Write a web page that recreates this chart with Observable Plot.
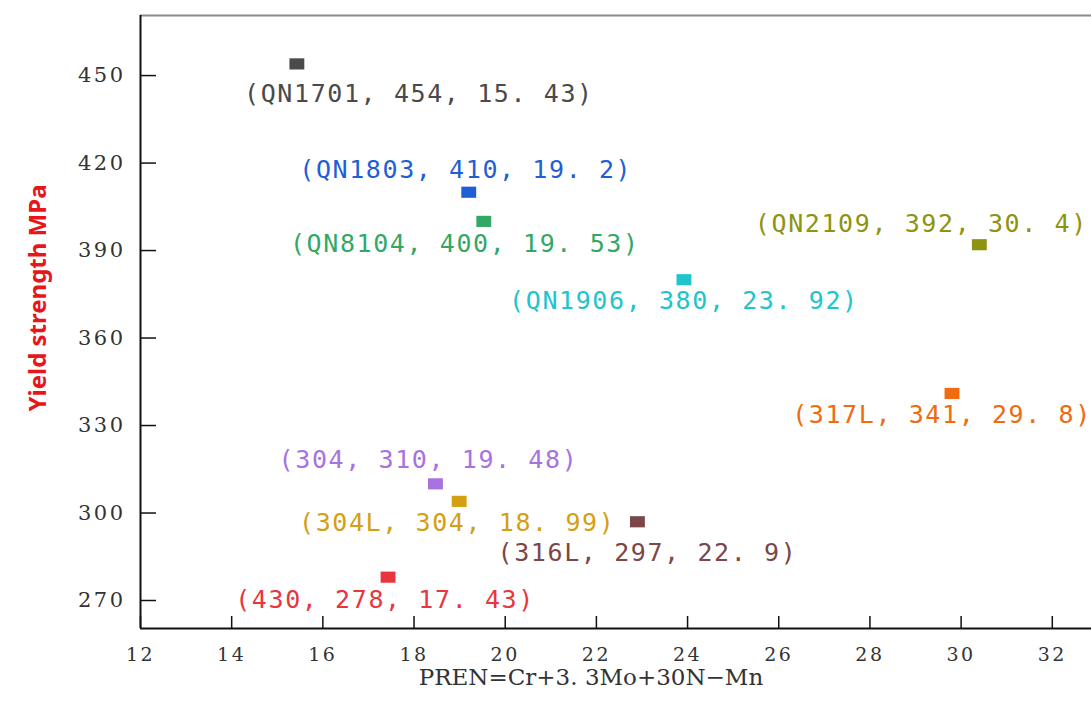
<!DOCTYPE html>
<html>
<head>
<meta charset="utf-8">
<script src="https://cdn.jsdelivr.net/npm/d3@7"></script>
<script src="https://cdn.jsdelivr.net/npm/@observablehq/plot@0.6"></script>
<style>
  html, body { margin: 0; padding: 0; background: #fff; }
  #chart svg { display: block; }
</style>
</head>
<body>
<div id="chart"></div>
<script>
// Data
const grades = ["QN1701", "QN1803", "QN8104", "QN2109", "QN1906", "317L", "304", "304L", "316L", "430"];
const yieldStrength = [454, 410, 400, 392, 380, 341, 310, 304, 297, 278];
// marker positions (x)
const pren = [15.43, 19.2, 19.53, 30.4, 23.92, 29.8, 18.47, 18.99, 22.9, 17.43];
// values as printed in the labels
const prenText = ["15. 43", "19. 2", "19. 53", "30. 4", "23. 92", "29. 8", "19. 48", "18. 99", "22. 9", "17. 43"];
const colors = ["#4a4a4a", "#1f5fd6", "#33a865", "#8c9412", "#22c4cc", "#f06a10", "#a872e0", "#d4a012", "#7a4848", "#e8363e"];
// label offsets (px) relative to the marker
const labelDx = [122, -3, -19, -58, 0, -10, -7, -2, 10, -3];
const labelDy = [30, -22, 23, -21, 21, 22, -24, 22, 31, 23];

const xTicks = [12, 14, 16, 18, 20, 22, 24, 26, 28, 30, 32];
const yTicks = [270, 300, 330, 360, 390, 420, 450];
const xDomain = [12, 32.86];
const yDomain = [260.4, 470.6];
const xTitle = "PREN=Cr+3. 3Mo+30N\u2212Mn";
const yTitle = "Yield strength MPa";

const data = grades.map((g, i) => ({
  grade: g, y: yieldStrength[i], x: pren[i], color: colors[i],
  label: `(${g}, ${yieldStrength[i]}, ${prenText[i]})`,
  dx: labelDx[i], dy: labelDy[i]
}));

const rectSymbol = {
  draw(ctx, size) {
    const s = Math.sqrt(size);
    ctx.rect(-0.6 * s, -0.45 * s, 1.2 * s, 0.9 * s);
  }
};

const tickFont = "DejaVu Serif, serif";

const marks = [
  // frame lines
  Plot.ruleY([yDomain[1]], {stroke: "#8a8a8a", strokeWidth: 2}),
  Plot.ruleX([xDomain[0]], {stroke: "#111", strokeWidth: 2}),
  Plot.ruleY([yDomain[0]], {stroke: "#111", strokeWidth: 2}),
  // axes: inward ticks
  Plot.axisY(yTicks, {anchor: "left", tickSize: -16, fill: "none", stroke: "#111", strokeWidth: 1.5, label: null}),
  Plot.axisY(yTicks, {anchor: "left", tickSize: 0, tickPadding: 15, fill: "#333", label: null,
    fontSize: 21, fontFamily: tickFont}),
  Plot.axisX(xTicks, {anchor: "bottom", tickSize: -12, fill: "none", stroke: "#111", strokeWidth: 1.5, label: null}),
  Plot.axisX(xTicks, {anchor: "bottom", tickSize: 0, tickPadding: 19, fill: "#333", label: null,
    fontSize: 19, fontFamily: tickFont}),
];

for (const d of data) {
  marks.push(Plot.text([d], {x: "x", y: "y", text: "label", fill: d.color, dx: d.dx, dy: d.dy,
    fontSize: 25, fontFamily: "DejaVu Sans Mono, monospace"}));
}
marks.push(Plot.dot(data, {x: "x", y: "y", fill: "color", symbol: rectSymbol, r: 7, stroke: null}));

// axis titles
marks.push(Plot.text([xTitle], {frameAnchor: "bottom", dy: 56, dx: -25, text: d => d, fill: "#333",
  fontSize: 23, fontFamily: tickFont}));
marks.push(Plot.text([yTitle], {frameAnchor: "left", textAnchor: "middle", dx: -102, dy: -24, rotate: -90,
  text: d => d, fill: "#e8151b", fontSize: 24, fontWeight: "bold", fontFamily: "Noto Sans, sans-serif"}));

const chart = Plot.plot({
  width: 1091,
  height: 712,
  marginLeft: 140,
  marginRight: 0,
  marginTop: 15,
  marginBottom: 84,
  x: {domain: xDomain, axis: null},
  y: {domain: yDomain, axis: null},
  style: {background: "#fff", overflow: "visible"},
  marks
});
document.getElementById("chart").appendChild(chart);

// letter spacing tweaks (wide-set glyphs as in the reference)
const labelSet = new Set(data.map(d => d.label));
d3.select(chart).selectAll("text").each(function () {
  const t = this.textContent;
  const parentLabel = this.parentNode.getAttribute("aria-label") || "";
  if (labelSet.has(t)) this.style.letterSpacing = "1.6px";
  else if (parentLabel.includes("tick label")) this.style.letterSpacing = "2.5px";
});
</script>
</body>
</html>
